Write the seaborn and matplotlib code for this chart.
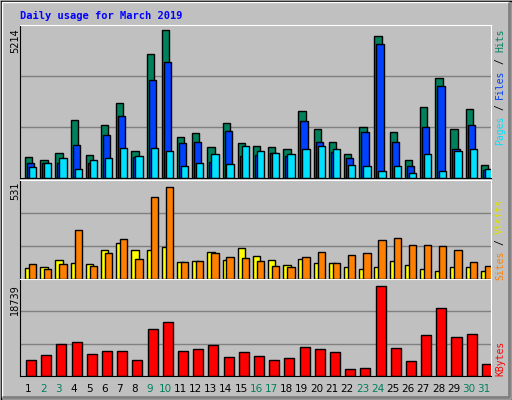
import matplotlib
matplotlib.use("Agg")
import matplotlib.pyplot as plt
import seaborn as sns
import numpy as np
import pandas as pd

days = list(range(1, 32))
hits = [721, 603, 851, 2021, 780, 1844, 2624, 922, 4362, 5214, 1418, 1560, 1064, 1915, 1206, 1099,
        1064, 993, 2340, 1702, 1241, 816, 1773, 5000, 1596, 603, 2482, 3510, 1702, 2411, 426]
files = [497, 497, 497, 1135, 497, 1490, 2163, 709, 3440, 4078, 1206, 1241, 532, 1631, 745, 780,
         851, 745, 1986, 1241, 887, 674, 1596, 4716, 1241, 390, 1773, 3227, 993, 1844, 248]
pages = [355, 497, 674, 284, 603, 674, 1028, 745, 1028, 922, 390, 497, 816, 461, 1099, 922,
         851, 816, 993, 1099, 993, 426, 390, 213, 390, 142, 816, 213, 922, 993, 284]
sites = [63, 69, 110, 92, 87, 167, 208, 167, 167, 185, 98, 104, 156, 110, 179, 133,
         110, 81, 115, 92, 92, 69, 58, 69, 104, 81, 58, 46, 69, 69, 46]
visits = [87, 58, 87, 283, 75, 150, 231, 115, 473, 531, 98, 104, 150, 127, 121, 104,
          75, 69, 127, 156, 92, 139, 150, 225, 237, 196, 196, 190, 167, 98, 75]
kbytes = [3351, 4377, 6634, 7044, 4583, 5198, 5198, 3351, 9711, 11147, 5198, 5608, 6429, 3967, 4992, 4172,
          3351, 3761, 6018, 5608, 4992, 1505, 1710, 18739, 5813, 3146, 8480, 14020, 8070, 8685, 2530]
weekend = [2, 3, 9, 10, 16, 17, 23, 24, 30, 31]

sns.set_style("white")
W, H = 512, 400
fig = plt.figure(figsize=(W / 100, H / 100), dpi=100, facecolor="#C0C0C0")

def ax_at(x0, y0, x1, y1):
    return fig.add_axes([x0 / W, 1 - y1 / H, (x1 - x0) / W, (y1 - y0) / H])

# outer frame
frame = fig.add_axes([0, 0, 1, 1], facecolor="none")
frame.set_xlim(0, W); frame.set_ylim(H, 0); frame.axis("off")
frame.plot([0.5, W - 0.5, W - 0.5, 0.5, 0.5], [0.5, 0.5, H - 0.5, H - 0.5, 0.5], color="black", lw=1)
frame.plot([2, W - 3], [2, 2], color="white", lw=1)
frame.plot([2, 2], [2, H - 3], color="white", lw=1)
frame.plot([3, W - 3, W - 3], [H - 3, H - 3, 3], color="#808080", lw=2)

C_HITS, C_FILES, C_PAGES = "#00805C", "#0040FF", "#00E0FF"
C_SITES, C_VISITS, C_KB = "#FFFF00", "#FF8000", "#FF0000"

def style(ax, top):
    ax.set_facecolor("#C0C0C0")
    ax.set_xlim(0.5, 31.5)
    ax.set_ylim(0, top)
    for f in (1 / 3, 2 / 3):
        ax.axhline(top * f, color="#808080", lw=1, zorder=0)
    ax.set_xticks([]); ax.set_yticks([])
    for s in ("left", "bottom"):
        ax.spines[s].set_color("black")
    for s in ("top", "right"):
        ax.spines[s].set_color("white")

x = np.array(days)
ax1 = ax_at(20, 25, 491, 177.5)
style(ax1, 5214 * 151.5 / 147)
kw = dict(align="edge", width=0.48, edgecolor="black", linewidth=1, zorder=2)
ax1.bar(x - 0.17, hits, color=C_HITS, **kw)
ax1.bar(x - 0.04, files, color=C_FILES, **kw)
ax1.bar(x + 0.09, pages, color=C_PAGES, **kw)

ax2 = ax_at(20, 180, 491, 279)
style(ax2, 531 * 99 / 92)
ax2.bar(x - 0.17, sites, color=C_SITES, **kw)
ax2.bar(x + 0.09, visits, color=C_VISITS, **kw)

ax3 = ax_at(20, 279, 491, 376)
style(ax3, 18739 * 98 / 91.3)
ax3.bar(x - 0.1, kbytes, align="edge", width=0.66, color=C_KB, edgecolor="black", linewidth=1, zorder=2)

# texts
frame.text(20, 16, "Daily usage for March 2019", color="#0000FF", fontsize=7.5,
           family="DejaVu Sans Mono", fontweight="bold", va="center", ha="left")
for lab, ytop in (("5214", 28), ("531", 181), ("18739", 284)):
    frame.text(15, ytop, lab, rotation=90, fontsize=7, ha="center", va="top", color="black")

ch = 5.75
def side(parts, ytop):
    for txt, off, col in parts:
        frame.text(500, ytop + off * ch, txt, rotation=90, fontsize=7, family="DejaVu Sans Mono",
                   ha="center", va="top", color=col)
side([("Hits", 0, C_HITS), ("/", 5, "black"), ("Files", 7, C_FILES), ("/", 13, "black"),
      ("Pages", 15, C_PAGES)], 29)
side([("Visits", 0, "#E0E000"), ("/", 7, "black"), ("Sites", 9, C_VISITS)], 199)
side([("KBytes", 0, C_KB)], 341)

slot = 471 / 31
for d in days:
    xc = 20 + (d - 0.5) * slot + 0.7
    frame.text(xc, 389, str(d), fontsize=7.5, ha="center", va="center",
               color="#00805C" if d in weekend else "black")

fig.savefig("out.png", dpi=100, facecolor=fig.get_facecolor())
